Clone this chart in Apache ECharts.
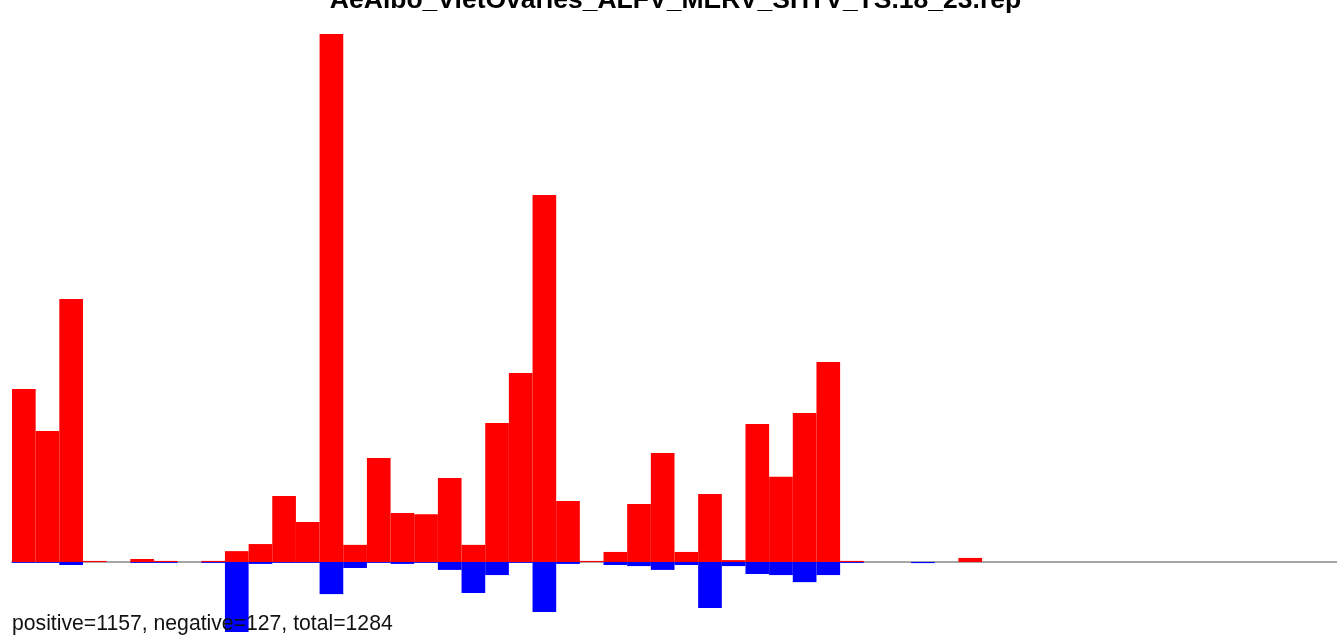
<!DOCTYPE html>
<html>
<head>
<meta charset="utf-8">
<script src="https://cdn.jsdelivr.net/npm/echarts@6/dist/echarts.min.js"></script>
<style>html,body{margin:0;padding:0;background:#fff}#c{width:1337px;height:636px}</style>
</head>
<body>
<div id="c"></div>
<script>
const titleText = "AeAlbo_VietOvaries_ALFV_MERV_SHTV_TS.18_23.rep";
const summaryText = "positive=1157, negative=127, total=1284";
const bins = Array.from({length: 56}, (_, i) => String(i + 1));
const positive = [63.6, 48.2, 96.7, 0.4, 0, 1.1, 0.4, 0, 0.4, 4.0,
  6.6, 24.3, 14.7, 194.1, 6.3, 38.2, 18.0, 17.6, 30.9, 6.3,
  51.1, 69.5, 134.9, 22.4, 0.4, 3.7, 21.3, 40.1, 3.7, 25.0,
  0.7, 50.7, 31.3, 54.8, 73.5, 0.4, 0, 0, 0, 0,
  1.5, 0, 0, 0, 0, 0, 0, 0, 0, 0,
  0, 0, 0, 0, 0, 0];
const negative = [-0.3, -0.3, -1.1, 0, 0, -0.3, -0.3, 0, -0.3, -25.7,
  -0.7, -0.3, -0.3, -11.8, -2.2, -0.3, -0.7, -0.3, -2.9, -11.4,
  -4.8, -0.3, -18.4, -0.7, 0, -1.1, -1.5, -2.9, -1.1, -16.9,
  -1.5, -4.4, -4.8, -7.4, -4.8, -0.3, 0, 0, -0.4, 0,
  0, 0, 0, 0, 0, 0, 0, 0, 0, 0,
  0, 0, 0, 0, 0, 0];
const yMax = 194.1, yMin = -27.2;

const chart = echarts.init(document.getElementById('c'), null, {renderer: 'canvas'});
chart.setOption({
  animation: false,
  backgroundColor: '#ffffff',
  grid: {left: 12, width: 1328, top: 34, bottom: 0, containLabel: false},
  xAxis: {
    type: 'category', data: bins,
    axisLine: {show: true, onZero: true, lineStyle: {color: '#a6a6a6', width: 2}},
    axisTick: {show: false}, axisLabel: {show: false}, splitLine: {show: false}
  },
  yAxis: {
    type: 'value', min: yMin, max: yMax,
    axisLine: {show: false}, axisTick: {show: false}, axisLabel: {show: false}, splitLine: {show: false}
  },
  series: [
    {type: 'bar', data: positive, barCategoryGap: 0, barGap: '-100%', itemStyle: {color: '#ff0000'}, z: 3},
    {type: 'bar', data: negative, barCategoryGap: 0, barGap: '-100%', itemStyle: {color: '#0000ff'}, z: 3}
  ],
  graphic: [
    {type: 'text', z: 10,
     style: {x: 675.5, y: 0.5, text: titleText, font: 'bold 26.5px "Liberation Sans", Arial, sans-serif', fill: '#000', align: 'center', verticalAlign: 'middle'}},
    {type: 'text', z: 10,
     style: {x: 12, y: 624.5, text: summaryText, font: '21.2px "Liberation Sans", Arial, sans-serif', fill: '#111', align: 'left', verticalAlign: 'middle'}}
  ]
});
</script>
</body>
</html>
